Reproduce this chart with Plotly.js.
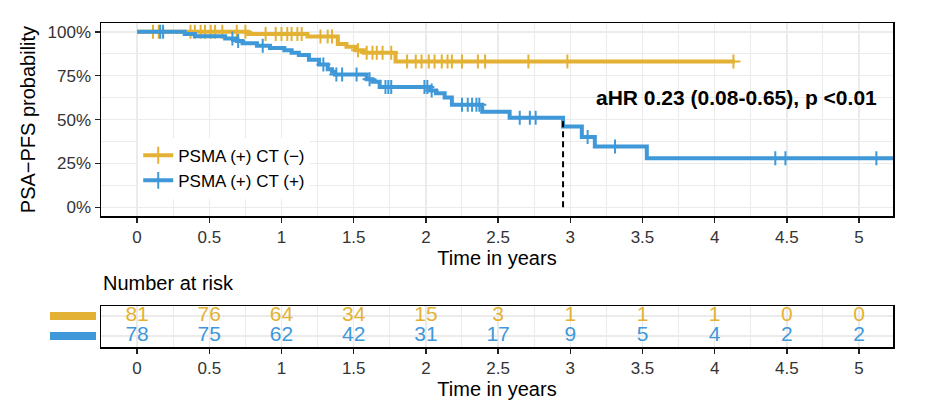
<!DOCTYPE html>
<html>
<head>
<meta charset="utf-8">
<script src="https://cdn.plot.ly/plotly-3.0.1.min.js"></script>
<style>html,body{margin:0;padding:0;background:#fff;}#chart{width:952px;height:400px;}</style>
</head>
<body>
<div id="chart"></div>
<script>
// ---- data ----
const groupNames = ['PSMA (+) CT (\u2212)', 'PSMA (+) CT (+)'];
const groupColors = ['#E3B234', '#3F98D8'];

// Kaplan-Meier steps, PSMA (+) CT (-)
const negTimes = [0, 0.77, 1.18, 1.39, 1.45, 1.51, 1.57, 1.79, 4.14];
const negSurv  = [1.0, 0.987, 0.973, 0.93, 0.915, 0.895, 0.88, 0.83, 0.83];
const negCensor = [0.11, 0.15, 0.37, 0.40, 0.44, 0.47, 0.51, 0.54, 0.59, 0.69, 0.75, 0.89, 0.96, 1.00, 1.04, 1.07, 1.11, 1.14, 1.27, 1.32, 1.35, 1.53, 1.59, 1.63, 1.66, 1.70, 1.76, 1.87, 1.93, 1.97, 2.02, 2.06, 2.11, 2.15, 2.18, 2.25, 2.36, 2.41, 2.71, 2.98, 4.13];

// Kaplan-Meier steps, PSMA (+) CT (+)
const posTimes = [0, 0.33, 0.40, 0.61, 0.69, 0.73, 0.83, 0.92, 1.02, 1.07, 1.12, 1.19, 1.26, 1.32, 1.35, 1.37, 1.59, 1.63, 1.68, 2.03, 2.07, 2.13, 2.18, 2.39, 2.58, 2.95, 3.08, 3.17, 3.53, 5.30];
const posSurv  = [1.0, 0.987, 0.974, 0.961, 0.948, 0.934, 0.921, 0.908, 0.895, 0.881, 0.868, 0.841, 0.814, 0.787, 0.773, 0.757, 0.73, 0.716, 0.685, 0.665, 0.65, 0.625, 0.585, 0.545, 0.51, 0.46, 0.40, 0.347, 0.28, 0.28];
const posCensor = [0.16, 0.18, 0.66, 0.70, 0.87, 1.29, 1.38, 1.42, 1.52, 1.61, 1.72, 1.74, 1.76, 1.99, 2.01, 2.04, 2.25, 2.29, 2.32, 2.35, 2.37, 2.65, 2.72, 2.76, 3.12, 3.31, 4.42, 4.49, 5.12];

// Number at risk
const riskTimes = [0, 0.5, 1, 1.5, 2, 2.5, 3, 3.5, 4, 4.5, 5];
const riskNeg = [81, 76, 64, 34, 15, 3, 1, 1, 1, 0, 0];
const riskPos = [78, 75, 62, 42, 31, 17, 9, 5, 4, 2, 2];

const xTickVals = [0, 0.5, 1, 1.5, 2, 2.5, 3, 3.5, 4, 4.5, 5];
const xTickText = ['0', '0.5', '1', '1.5', '2', '2.5', '3', '3.5', '4', '4.5', '5'];
const yTickVals = [0, 0.25, 0.5, 0.75, 1];
const yTickText = ['0%', '25%', '50%', '75%', '100%'];
const hrText = 'aHR 0.23 (0.08-0.65), p <0.01';

// ---- helpers ----
function survAt(times, surv, t) {
  let s = surv[0];
  for (let i = 0; i < times.length; i++) { if (times[i] <= t) s = surv[i]; }
  return s;
}
function medianTime(times, surv) {
  for (let i = 0; i < times.length; i++) { if (surv[i] <= 0.5) return times[i]; }
  return null;
}

const FONT = 'Liberation Sans, Arial, sans-serif';
const gridC = '#EBEBEB';
const tickC = '#333333';
const curves = [[negTimes, negSurv, negCensor], [posTimes, posSurv, posCensor]];
const traces = [];

curves.forEach((c, g) => {
  traces.push({
    x: c[0], y: c[1], type: 'scatter', mode: 'lines',
    line: {shape: 'hv', color: groupColors[g], width: 4},
    xaxis: 'x', yaxis: 'y', showlegend: false, hoverinfo: 'skip'
  });
  traces.push({
    x: c[2], y: c[2].map(t => survAt(c[0], c[1], t)), type: 'scatter', mode: 'markers',
    marker: {symbol: 'cross-thin-open', size: 10, color: groupColors[g], line: {width: 2, color: groupColors[g]}},
    xaxis: 'x', yaxis: 'y', showlegend: false, hoverinfo: 'skip'
  });
});

// median line
const med = medianTime(posTimes, posSurv);
traces.push({
  x: [med, med], y: [0, 0.5], type: 'scatter', mode: 'lines',
  line: {color: '#000', width: 2, dash: '6px,4px'}, xaxis: 'x', yaxis: 'y',
  showlegend: false, hoverinfo: 'skip'
});

// legend entries
groupNames.forEach((n, g) => {
  traces.push({
    x: [null], y: [null], type: 'scatter', mode: 'lines+markers', name: n,
    line: {color: groupColors[g], width: 4},
    marker: {symbol: 'cross-thin-open', size: 12, color: groupColors[g], line: {width: 2, color: groupColors[g]}},
    xaxis: 'x', yaxis: 'y', showlegend: true
  });
});

// risk table
[riskNeg, riskPos].forEach((r, g) => {
  traces.push({
    x: riskTimes, y: riskTimes.map(() => 2 - g), text: r.map(String),
    type: 'scatter', mode: 'text', textposition: 'middle center',
    textfont: {family: FONT, size: 21, color: groupColors[g]},
    xaxis: 'x2', yaxis: 'y2', showlegend: false, hoverinfo: 'skip'
  });
});

const xCommon = {
  range: [-0.25, 5.235], tickmode: 'array', tickvals: xTickVals, ticktext: xTickText,
  showline: true, mirror: true, linecolor: '#000', linewidth: 1.5,
  ticks: 'outside', ticklen: 5, tickwidth: 1.5, tickcolor: '#222',
  showgrid: true, gridcolor: gridC, gridwidth: 1.5,
  minor: {tickmode: 'linear', tick0: 0.25, dtick: 0.5, showgrid: true, gridcolor: gridC, gridwidth: 1, ticks: ''},
  zeroline: false, tickfont: {family: FONT, size: 17, color: tickC}, domain: [0, 1]
};

const layout = {
  width: 952, height: 400,
  margin: {l: 101, r: 59, t: 23, b: 53},
  paper_bgcolor: '#fff', plot_bgcolor: '#fff',
  font: {family: FONT, color: '#000'},
  xaxis: Object.assign({}, xCommon, {anchor: 'y',
    title: {text: 'Time in years', font: {family: FONT, size: 20, color: '#000'}, standoff: 5}}),
  xaxis2: Object.assign({}, xCommon, {anchor: 'y2',
    title: {text: 'Time in years', font: {family: FONT, size: 20, color: '#000'}, standoff: 4}}),
  yaxis: {
    domain: [0.404, 1], anchor: 'x', range: [-0.05, 1.05],
    tickmode: 'array', tickvals: yTickVals, ticktext: yTickText,
    showline: true, mirror: true, linecolor: '#000', linewidth: 1.5,
    ticks: 'outside', ticklen: 5, tickwidth: 1.5, tickcolor: '#222',
    showgrid: true, gridcolor: gridC, gridwidth: 1.5,
    minor: {tickmode: 'linear', tick0: 0.125, dtick: 0.25, showgrid: true, gridcolor: gridC, gridwidth: 1, ticks: ''},
    zeroline: false, tickfont: {family: FONT, size: 17, color: tickC},
    title: {text: 'PSA\u2212PFS probability', font: {family: FONT, size: 20, color: '#000'}, standoff: 6}
  },
  yaxis2: {
    domain: [0, 0.1265], anchor: 'x2', range: [0.45, 2.5],
    tickmode: 'array', tickvals: [1, 2], showticklabels: false, ticks: '',
    showline: true, mirror: true, linecolor: '#000', linewidth: 1.5,
    showgrid: true, gridcolor: gridC, gridwidth: 1.5, zeroline: false
  },
  legend: {
    x: 0.047, xanchor: 'left', y: 0.646, yanchor: 'top',
    bgcolor: '#fff', borderwidth: 0,
    font: {family: FONT, size: 17, color: '#000'}
  },
  showlegend: true,
  annotations: [
    {text: '<b>' + hrText + '</b>', xref: 'x', yref: 'y', x: 4.15, y: 0.625,
     showarrow: false, font: {family: FONT, size: 21, color: '#000'}},
    {text: 'Number at risk', xref: 'paper', yref: 'paper', x: 0, y: 0.1975,
     xanchor: 'left', yanchor: 'middle', showarrow: false,
     font: {family: FONT, size: 20, color: '#000'}}
  ],
  shapes: [
    {type: 'line', xref: 'paper', yref: 'y2', x0: -0.0644, x1: -0.0063, y0: 2, y1: 2,
     line: {color: groupColors[0], width: 8}},
    {type: 'line', xref: 'paper', yref: 'y2', x0: -0.0644, x1: -0.0063, y0: 1, y1: 1,
     line: {color: groupColors[1], width: 8}}
  ]
};

Plotly.newPlot('chart', traces, layout, {displayModeBar: false, staticPlot: true});
</script>
</body>
</html>
